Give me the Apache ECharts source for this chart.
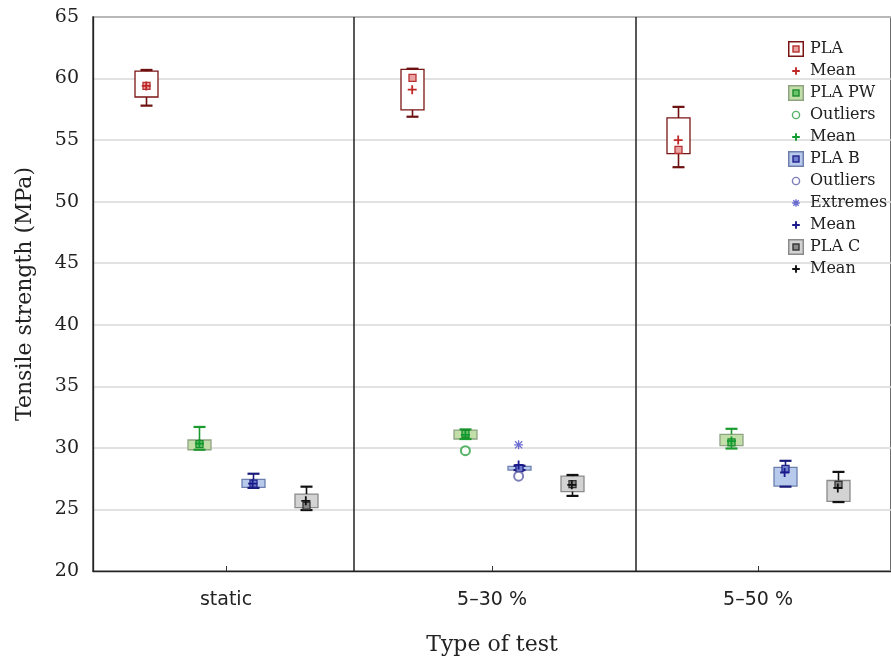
<!DOCTYPE html>
<html><head><meta charset="utf-8">
<script src="https://cdn.jsdelivr.net/npm/echarts@6/dist/echarts.min.js"></script>
<style>html,body{margin:0;padding:0;background:#fff}#c{width:891px;height:661px}</style>
</head><body><div id="c"></div>
<script>
// ---------- DATA ----------
const categories = ['static', '5–30 %', '5–50 %'];
const yMin = 20, yMax = 65, yStep = 5;
const panelDividers = [0.976, 2.043];           // vertical panel separators (category units)
const seriesNames = ['PLA', 'PLA PW', 'PLA B', 'PLA C'];
// box stats per category: [whiskerLow, q1, median, q3, whiskerHigh]
const plaBox  = [[57.8, 58.5, 59.4, 60.6, 60.7], [56.9, 57.45, 60.05, 60.75, 60.8], [52.8, 53.9, 54.2, 56.8, 57.7]];
const plaPwBox = [[29.85, 29.85, 30.3, 30.64, 31.7], [30.72, 30.72, 31.15, 31.45, 31.5], [29.95, 30.18, 30.45, 31.1, 31.55]];
const plaBBox = [[26.75, 26.8, 27.1, 27.45, 27.9], [28.2, 28.2, 28.35, 28.5, 28.55], [26.85, 26.9, 28.3, 28.42, 28.95]];
const plaCBox = [[24.95, 25.15, 25.3, 26.25, 26.85], [26.1, 26.45, 27.05, 27.7, 27.8], [25.6, 25.65, 27.0, 27.35, 28.05]];
const plaMean   = [59.4, 59.1, 55.0];
const plaPwMean = [30.35, 31.05, 30.55];
const plaBMean  = [27.1, 28.6, 28.0];
const plaCMean  = [25.7, 27.0, 26.75];
const plaPwOutliers = [null, 29.77, null];
const plaBOutliers  = [null, 27.7, null];
const plaBExtremes  = [null, 30.25, null];

// ---------- STYLE ----------
const groupOffsets = [-0.3, -0.1, 0.1, 0.3];
const styles = [
  {fill: '#ffffff', border: '#7a1515', whisker: '#6e1010', medFill: '#e9a3a3', medStroke: '#b83030', mean: '#c02828'},
  {fill: '#c2dfaa', border: '#8fa383', whisker: '#1b9a2e', medFill: '#6cc46c', medStroke: '#1a8a2a', mean: '#109a30', outl: '#2aa040'},
  {fill: '#b8caec', border: '#6c7fae', whisker: '#1a1a7a', medFill: '#7080d0', medStroke: '#22228a', mean: '#1a1a8a', outl: '#5c5ca8', extr: '#4a4ac8'},
  {fill: '#d3d3d3', border: '#8a8a8a', whisker: '#111111', medFill: '#8a8a8a', medStroke: '#333333', mean: '#111111'}
];
const SERIF = '"DejaVu Serif", serif';
const SANS = '"DejaVu Sans", sans-serif';
const plusPath = 'path://M4,0H6V4H10V6H6V10H4V6H0V4H4Z';
const starPath = 'path://M4.3,0H5.7V10H4.3Z M0,4.3H10V5.7H0Z M1.5,0.5L9.5,8.5L8.5,9.5L0.5,1.5Z M8.5,0.5L9.5,1.5L1.5,9.5L0.5,8.5Z';

function svgIcon(inner) {
  const svg = '<svg xmlns="http://www.w3.org/2000/svg" width="16" height="16" viewBox="0 0 16 16">' + inner + '</svg>';
  return 'image://data:image/svg+xml;charset=utf-8,' + encodeURIComponent(svg);
}
function boxIcon(s) {
  return svgIcon('<rect x="0.75" y="0.75" width="14.5" height="14.5" fill="' + s.fill + '" stroke="' + s.border + '" stroke-width="1.5"/>' +
    '<rect x="5" y="5" width="6" height="6" fill="' + s.medFill + '" stroke="' + s.medStroke + '" stroke-width="1.4"/>');
}
function plusIcon(c) { return svgIcon('<path d="M8 4.2V11.8M4.2 8H11.8" stroke="' + c + '" stroke-width="1.9" fill="none"/>'); }
function circleIcon(c) { return svgIcon('<circle cx="8" cy="8" r="3.6" fill="none" stroke="' + c + '" stroke-width="1.4"/>'); }
function starIcon(c) { return svgIcon('<path d="M8 4.2V11.8M4.2 8H11.8M5.3 5.3L10.7 10.7M10.7 5.3L5.3 10.7" stroke="' + c + '" stroke-width="1.4" fill="none"/>'); }

function makeRender(s) {
  return function (params, api) {
    const x = api.value(0);
    const pLow = api.coord([x, api.value(1)]);
    const pQ1 = api.coord([x, api.value(2)]);
    const pMed = api.coord([x, api.value(3)]);
    const pQ3 = api.coord([x, api.value(4)]);
    const pHigh = api.coord([x, api.value(5)]);
    const cx = Math.round(pLow[0]) + 0.5;
    const hw = 11.5, cap = 6;
    return {type: 'group', children: [
      {type: 'rect', shape: {x: cx - hw, y: pQ3[1], width: 2 * hw, height: pQ1[1] - pQ3[1]}, style: {fill: s.fill, stroke: s.border, lineWidth: 1.3}},
      {type: 'line', shape: {x1: cx, y1: pHigh[1], x2: cx, y2: pQ3[1]}, style: {stroke: s.whisker, lineWidth: 1.6}},
      {type: 'line', shape: {x1: cx, y1: pQ1[1], x2: cx, y2: pLow[1]}, style: {stroke: s.whisker, lineWidth: 1.6}},
      {type: 'line', shape: {x1: cx - cap, y1: pHigh[1], x2: cx + cap, y2: pHigh[1]}, style: {stroke: s.whisker, lineWidth: 2.2}},
      {type: 'line', shape: {x1: cx - cap, y1: pLow[1], x2: cx + cap, y2: pLow[1]}, style: {stroke: s.whisker, lineWidth: 2.2}},
      {type: 'rect', shape: {x: cx - 3.5, y: pMed[1] - 3.5, width: 7, height: 7}, style: {fill: s.medFill, stroke: s.medStroke, lineWidth: 1.3}}
    ]};
  };
}

const boxes = [plaBox, plaPwBox, plaBBox, plaCBox];
const means = [plaMean, plaPwMean, plaBMean, plaCMean];

function pointData(values, g) {
  const out = [];
  values.forEach(function (v, i) { if (v !== null) out.push([i + 0.5 + groupOffsets[g], v]); });
  return out;
}
function boxSeries(g) {
  return {
    name: seriesNames[g], type: 'custom', xAxisIndex: 1, yAxisIndex: 0, z: 3,
    renderItem: makeRender(styles[g]),
    encode: {x: 0, y: [1, 2, 3, 4, 5]},
    data: boxes[g].map(function (b, i) { return [i + 0.5 + groupOffsets[g]].concat(b); })
  };
}
function meanSeries(g) {
  return {
    name: seriesNames[g] + ' Mean', type: 'scatter', xAxisIndex: 1, z: 5,
    symbol: plusPath, symbolSize: 9, itemStyle: {color: styles[g].mean, opacity: 1},
    data: pointData(means[g], g)
  };
}

const series = [
  boxSeries(0), meanSeries(0),
  boxSeries(1),
  {name: 'PLA PW Outliers', type: 'scatter', xAxisIndex: 1, z: 5, symbol: 'emptyCircle', symbolSize: 9,
   itemStyle: {color: styles[1].outl, borderColor: styles[1].outl, borderWidth: 1.5}, data: pointData(plaPwOutliers, 1)},
  meanSeries(1),
  boxSeries(2),
  {name: 'PLA B Outliers', type: 'scatter', xAxisIndex: 1, z: 5, symbol: 'emptyCircle', symbolSize: 9,
   itemStyle: {color: styles[2].outl, borderColor: styles[2].outl, borderWidth: 1.5}, data: pointData(plaBOutliers, 2)},
  {name: 'PLA B Extremes', type: 'scatter', xAxisIndex: 1, z: 5, symbol: starPath, symbolSize: 9,
   itemStyle: {color: styles[2].extr}, data: pointData(plaBExtremes, 2)},
  meanSeries(2),
  boxSeries(3), meanSeries(3),
  {name: 'dividers', type: 'scatter', xAxisIndex: 1, data: [], silent: true,
   markLine: {silent: true, symbol: 'none', label: {show: false}, animation: false,
     lineStyle: {color: '#222', width: 1.5, type: 'solid'},
     data: panelDividers.map(function (v) { return {xAxis: v}; })}}
];

const legendData = [
  {name: 'PLA', icon: boxIcon(styles[0])},
  {name: 'PLA Mean', icon: plusIcon(styles[0].mean)},
  {name: 'PLA PW', icon: boxIcon(styles[1])},
  {name: 'PLA PW Outliers', icon: circleIcon(styles[1].outl)},
  {name: 'PLA PW Mean', icon: plusIcon(styles[1].mean)},
  {name: 'PLA B', icon: boxIcon(styles[2])},
  {name: 'PLA B Outliers', icon: circleIcon(styles[2].outl)},
  {name: 'PLA B Extremes', icon: starIcon(styles[2].extr)},
  {name: 'PLA B Mean', icon: plusIcon(styles[2].mean)},
  {name: 'PLA C', icon: boxIcon(styles[3])},
  {name: 'PLA C Mean', icon: plusIcon(styles[3].mean)}
];

const chart = echarts.init(document.getElementById('c'), null, {renderer: 'canvas'});
chart.setOption({
  animation: false,
  backgroundColor: '#fff',
  grid: {left: 93, top: 17, right: -1, bottom: 89, show: true, borderColor: '#222', borderWidth: 1.3, backgroundColor: 'transparent'},
  legend: {
    orient: 'vertical', left: 783, top: 36, itemWidth: 16, itemHeight: 16, itemGap: 6,
    selectedMode: false, data: legendData,
    formatter: function (n) { const m = n.match(/ (Mean|Outliers|Extremes)$/); return m ? m[1] : n; },
    textStyle: {fontFamily: SERIF, fontSize: 16, color: '#222', padding: [0, 0, 0, 1]}
  },
  xAxis: [
    {type: 'category', data: categories, position: 'bottom', boundaryGap: true,
     axisLine: {show: true, lineStyle: {color: '#222', width: 1.3}},
     axisTick: {show: true, inside: true, alignWithLabel: true, length: 5, lineStyle: {color: '#333'}},
     splitLine: {show: false},
     axisLabel: {fontFamily: SANS, fontSize: 19, color: '#222', margin: 20},
     name: 'Type of test', nameLocation: 'middle', nameGap: 63,
     nameTextStyle: {fontFamily: SERIF, fontSize: 22, color: '#222'}},
    {type: 'value', min: 0, max: 3, show: false}
  ],
  yAxis: {
    type: 'value', min: yMin, max: yMax, interval: yStep,
    axisLine: {show: true, lineStyle: {color: '#222', width: 1.3}},
    axisTick: {show: false},
    splitLine: {show: true, lineStyle: {color: '#d9d9d9', width: 1.5}},
    axisLabel: {fontFamily: SERIF, fontSize: 19, color: '#222', margin: 14},
    name: 'Tensile strength (MPa)', nameLocation: 'middle', nameGap: 57, nameRotate: 90,
    nameTextStyle: {fontFamily: SERIF, fontSize: 22, color: '#222'}
  },
  series: series
});
</script>
</body></html>
